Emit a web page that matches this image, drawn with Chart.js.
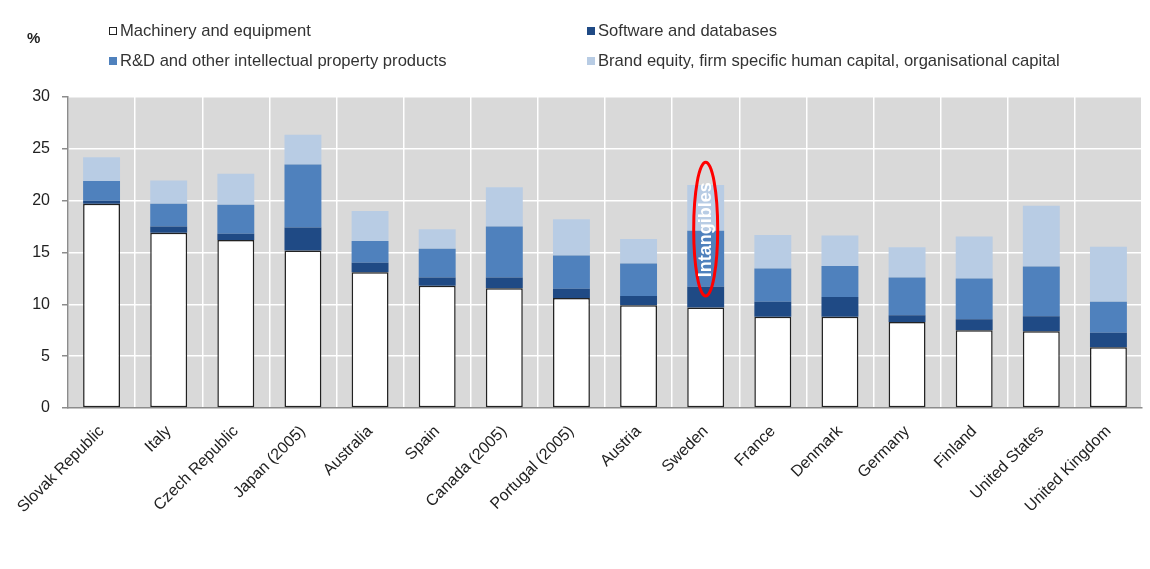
<!DOCTYPE html>
<html>
<head>
<meta charset="utf-8">
<script src="https://cdn.jsdelivr.net/npm/chart.js@4"></script>
<style>
	body { margin: 0; background: #fff; font-family: "Liberation Sans", Arial, sans-serif; }
	#wrap { position: relative; width: 1150px; height: 569px; }
	#unit { position: absolute; left: 27px; top: 29px; font-size: 15px; font-weight: bold; color: #222; }
	.leg { position: absolute; font-size: 16.6px; color: #333; white-space: nowrap; line-height: 18px; }
	.leg span.box { display: inline-block; width: 8px; height: 8px; margin-right: 3px; vertical-align: 1px; box-sizing: border-box; }
</style>
</head>
<body>
<div id="wrap">
	<canvas id="intangibles" width="1150" height="569"></canvas>
	<div id="unit">%</div>
	<div id="legend"></div>
</div>
<script>
var countries = ["Slovak Republic", "Italy", "Czech Republic", "Japan (2005)", "Australia", "Spain", "Canada (2005)", "Portugal (2005)", "Austria", "Sweden", "France", "Denmark", "Germany", "Finland", "United States", "United Kingdom"];
var machinery = [19.7, 16.9, 16.2, 15.2, 13.1, 11.8, 11.55, 10.6, 9.9, 9.7, 8.8, 8.8, 8.3, 7.5, 7.4, 5.85];
var software  = [0.3, 0.6, 0.6, 2.2, 0.9, 0.8, 1.05, 0.9, 0.9, 2.0, 1.45, 1.9, 0.65, 1.05, 1.45, 1.4];
var rnd       = [1.9, 2.2, 2.8, 6.1, 2.1, 2.75, 4.9, 3.2, 3.15, 5.4, 3.2, 3.0, 3.65, 3.95, 4.8, 3.0];
var brand     = [2.3, 2.25, 3.0, 2.85, 2.9, 1.9, 3.8, 3.5, 2.35, 4.4, 3.25, 2.95, 2.9, 4.05, 5.85, 5.3];
var yTicks = [0, 5, 10, 15, 20, 25, 30];

var seriesNames = ["Machinery and equipment", "Software and databases", "R&D and other intellectual property products", "Brand equity, firm specific human capital, organisational capital"];
var seriesColors = ["#ffffff", "#1f4a85", "#4f81bd", "#b8cce4"];

// legend in two columns, like the original
var legendPos = [[109, 22], [587, 22], [109, 52], [587, 52]];
var legendDiv = document.getElementById('legend');
for (var i = 0; i < seriesNames.length; i++) {
	var d = document.createElement('div');
	d.className = 'leg';
	d.style.left = legendPos[i][0] + 'px';
	d.style.top = legendPos[i][1] + 'px';
	var border = i == 0 ? '1px solid #222' : 'none';
	d.innerHTML = '<span class="box" style="background:' + seriesColors[i] + ';border:' + border + '"></span>';
	d.appendChild(document.createTextNode(seriesNames[i]));
	legendDiv.appendChild(d);
}

var plotBg = {
	id: 'plotBg',
	beforeDraw: function(chart) {
		var a = chart.chartArea, ctx = chart.ctx;
		ctx.save();
		ctx.fillStyle = '#d9d9d9';
		ctx.fillRect(a.left, a.top, a.right - a.left, a.bottom - a.top);
		ctx.restore();
	}
};

var marker = {
	id: 'marker',
	afterDatasetsDraw: function(chart) {
		var ctx = chart.ctx, x = chart.scales.x, y = chart.scales.y;
		var cx = x.getPixelForValue(9);
		var top = y.getPixelForValue(23.7), bottom = y.getPixelForValue(10.8);
		ctx.save();
		ctx.strokeStyle = '#ff0000';
		ctx.lineWidth = 3;
		ctx.beginPath();
		ctx.ellipse(cx, (top + bottom) / 2, 12, (bottom - top) / 2, 0, 0, Math.PI * 2);
		ctx.stroke();
		ctx.translate(cx, y.getPixelForValue(17.2));
		ctx.rotate(-Math.PI / 2);
		ctx.fillStyle = '#ffffff';
		ctx.font = 'bold 18px "Liberation Sans", Arial, sans-serif';
		ctx.textAlign = 'center';
		ctx.textBaseline = 'middle';
		ctx.fillText('Intangibles', 0, 0);
		ctx.restore();
	}
};

var data = {
	labels: countries,
	datasets: [
		{ label: seriesNames[0], data: machinery, backgroundColor: seriesColors[0], borderColor: "#222", borderWidth: 1.5, borderSkipped: false },
		{ label: seriesNames[1], data: software, backgroundColor: seriesColors[1] },
		{ label: seriesNames[2], data: rnd, backgroundColor: seriesColors[2] },
		{ label: seriesNames[3], data: brand, backgroundColor: seriesColors[3] }
	]
};

var config = {
	type: 'bar',
	data: data,
	plugins: [plotBg, marker],
	options: {
		responsive: false,
		animation: false,
		layout: { padding: { top: 97, right: 8, left: 0, bottom: 0 } },
		datasets: { bar: { categoryPercentage: 1, barPercentage: 0.55 } },
		plugins: { legend: { display: false }, tooltip: { enabled: false } },
		scales: {
			x: {
				stacked: true,
				grid: { color: '#ffffff', lineWidth: 1.5, offset: true, drawTicks: false },
				border: { color: '#8c8c8c', width: 1.5 },
				ticks: { color: '#222', font: { size: 16, family: '"Liberation Sans", Arial, sans-serif' }, maxRotation: 45, minRotation: 45, padding: 14 },
				afterFit: function(scale) { scale.height = 161; }
			},
			y: {
				stacked: true,
				min: 0, max: 30,
				afterBuildTicks: function(scale) { scale.ticks = yTicks.map(function(v) { return { value: v }; }); },
				grid: { color: '#ffffff', lineWidth: 1.5, tickColor: '#8c8c8c', tickLength: 6 },
				border: { color: '#8c8c8c', width: 1.5 },
				ticks: { color: '#222', font: { size: 16, family: '"Liberation Sans", Arial, sans-serif' }, padding: 12 },
				afterFit: function(scale) { scale.width = 68; }
			}
		}
	}
};

var chart = new Chart(document.getElementById('intangibles'), config);
</script>
</body>
</html>
